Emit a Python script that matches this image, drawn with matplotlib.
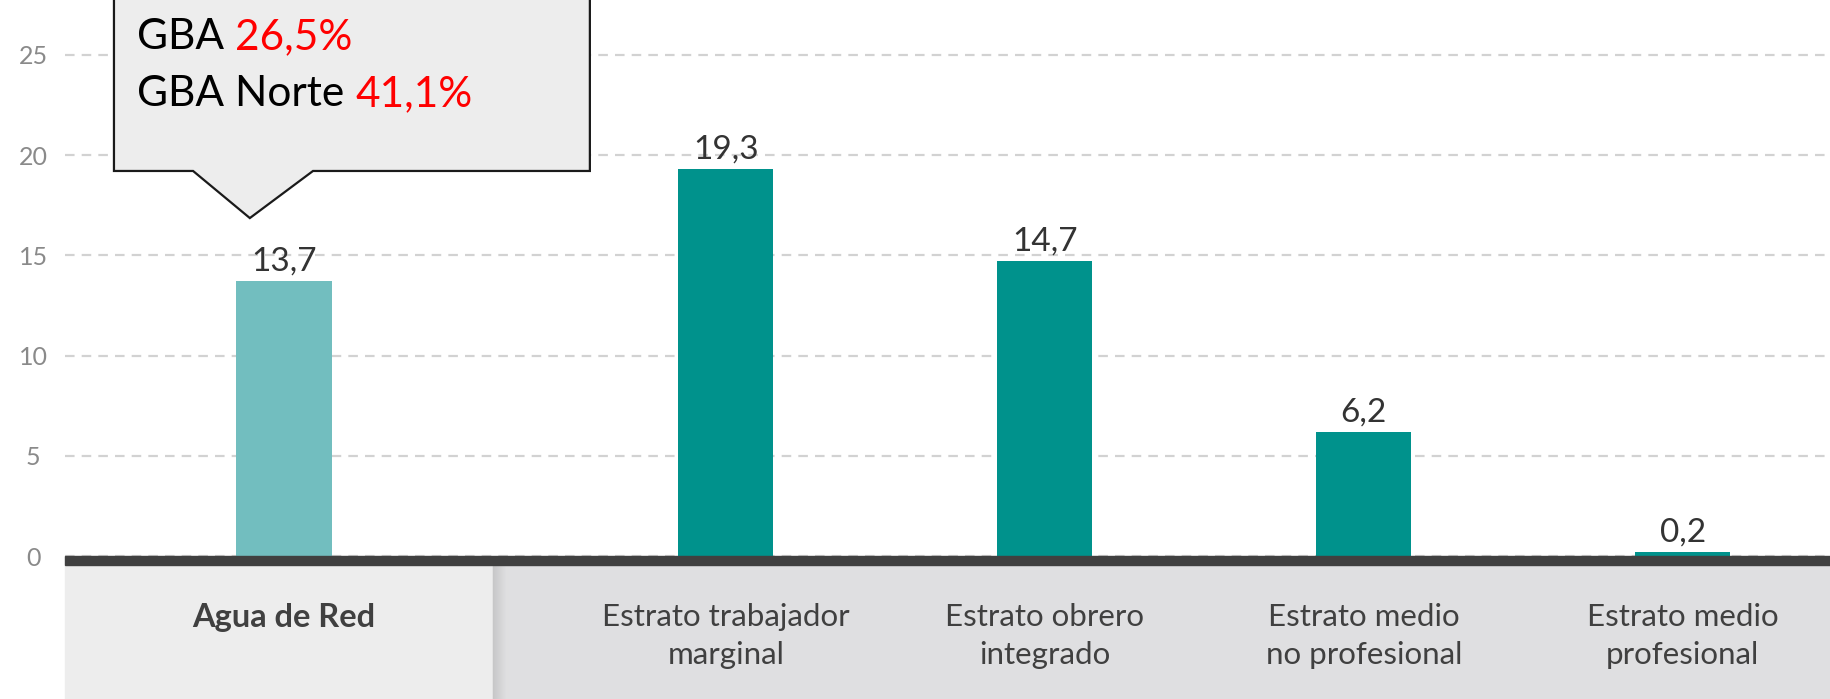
import matplotlib
matplotlib.use("Agg")
import matplotlib.pyplot as plt
from matplotlib.patches import Rectangle, Polygon

# datos
categorias = ["Agua de Red", "Estrato trabajador\nmarginal", "Estrato obrero\nintegrado",
              "Estrato medio\nno profesional", "Estrato medio\nprofesional"]
valores = [13.7, 19.3, 14.7, 6.2, 0.2]
etiquetas_valor = ["13,7", "19,3", "14,7", "6,2", "0,2"]
yticks = [0, 5, 10, 15, 20, 25]
callout_lineas = [("GBA", "26,5%"), ("GBA Norte", "41,1%")]

posiciones = [0, 1.385, 2.385, 3.385, 4.385]
colores = ["#72BEBF", "#00928C", "#00928C", "#00928C", "#00928C"]

plt.rcParams["font.family"] = ["Lato", "DejaVu Sans"]

W, H = 1831, 699
fig = plt.figure(figsize=(W / 100, H / 100), dpi=100)
ax = fig.add_axes([65 / W, 143 / H, 1 - 65 / W, 556 / H])

# ── banda gris inferior ───────────────────────────────────────────────
x_corte = 493 / W
fig.add_artist(Rectangle((65 / W, 0), x_corte - 65 / W, 134 / H,
                         transform=fig.transFigure, color="#EDEDED", zorder=0))
fig.add_artist(Rectangle((x_corte, 0), 1 - x_corte, 134 / H,
                         transform=fig.transFigure, color="#DFDFE1", zorder=0))
# sombra al borde izquierdo de la parte oscura
for i in range(14):
    g = 0.78 + (0.875 - 0.78) * i / 13
    fig.add_artist(Rectangle((x_corte + i / W, 0), 1 / W, 134 / H,
                             transform=fig.transFigure, color=(g, g, g + 0.005), zorder=0))
# línea base gruesa
fig.add_artist(Rectangle((65 / W, 134 / H), 1 - 65 / W, 9 / H,
                         transform=fig.transFigure, color="#404040", zorder=1))

# ── barras ─────────────────────────────────────────────────────────────
ancho = 0.298
ax.bar(posiciones, valores, width=ancho, color=colores, zorder=3)
for x, v, t in zip(posiciones, valores, etiquetas_valor):
    ax.annotate(t, xy=(x, v), xytext=(0, 7.5), textcoords="offset points",
                ha="center", va="baseline", fontsize=24, color="#333333", zorder=5)

ax.set_xlim(-0.6865, 4.85)
ax.set_ylim(0, 27.74)
ax.set_yticks(yticks)
ax.set_yticklabels([str(t) for t in yticks], color="#8A8A8A", fontsize=18, ha="center")
ax.tick_params(axis="y", length=0, pad=23)
ax.set_xticks(posiciones)
ax.set_xticklabels(categorias, color="#404040", fontsize=22.5, linespacing=1.42)
ax.get_xticklabels()[0].set_fontweight("bold")
ax.get_xticklabels()[0].set_fontsize(23.5)
ax.tick_params(axis="x", length=0, pad=34)
for s in ax.spines.values():
    s.set_visible(False)
ax.grid(axis="y", color="#D2D2D2", linewidth=1.6, linestyle=(0, (4.3, 3.2)), zorder=1)
ax.set_axisbelow(True)
ax.patch.set_alpha(0)

# ── globo de texto ─────────────────────────────────────────────────────
x0, v0 = posiciones[0], valores[0]
tip_y = v0 + 3.16
base_y = v0 + 5.51
globo = Polygon([(x0 - 0.533, 29), (x0 - 0.533, base_y), (x0 - 0.285, base_y),
                 (x0 - 0.107, tip_y), (x0 + 0.091, base_y), (x0 + 0.959, base_y),
                 (x0 + 0.959, 29)], closed=True, facecolor="#EDEDED",
                edgecolor="#1A1A1A", linewidth=1.6, zorder=6, clip_on=False)
ax.add_patch(globo)

for (negro, rojo), y in zip(callout_lineas, [v0 + 11.6, v0 + 8.73]):
    t1 = ax.text(x0 - 0.461, y, negro + " ", fontsize=30.5, color="black",
                 va="baseline", ha="left", zorder=7)
    ax.annotate(rojo, xy=(1, 0), xycoords=t1, va="bottom", ha="left",
                fontsize=30.5, color="red", zorder=7)

fig.savefig("out.png", dpi=100)
